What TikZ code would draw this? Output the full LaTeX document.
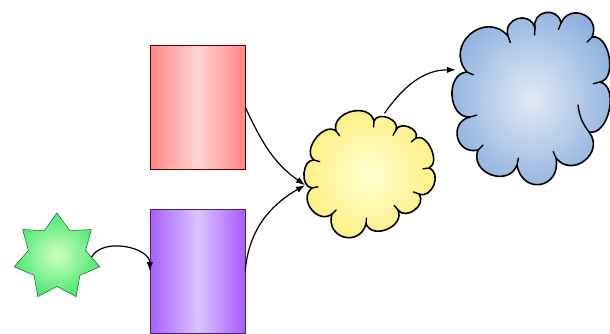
\documentclass[tikz,border=0pt]{standalone}
\usetikzlibrary{shapes.geometric,arrows.meta,calc}
\definecolor{redE}{HTML}{FF8585}
\definecolor{redC}{HTML}{FFD4D4}
\definecolor{purE}{HTML}{A95CFF}
\definecolor{purC}{HTML}{DCC4FF}
\definecolor{grnC}{HTML}{D0FFC0}
\definecolor{grnE}{HTML}{4CE874}
\definecolor{yelC}{HTML}{FFFFD0}
\definecolor{yelE}{HTML}{FFEE80}
\definecolor{bluC}{HTML}{E2EAF5}
\definecolor{bluE}{HTML}{8EB1E0}
\tikzset{
  box/.style={rectangle, inner sep=0pt, minimum width=95pt, minimum height=124pt},
  redbox/.style={box, draw=red!40!black, left color=redE, right color=redE, middle color=redC},
  purbox/.style={box, draw=purE!40!black, left color=purE, right color=purE, middle color=purC},
  greenstar/.style={star, star points=7, star point ratio=1.5, inner sep=0pt, minimum size=88pt,
    draw=green!30!black, inner color=grnC, outer color=grnE},
  anchorcloud/.style={ellipse, inner sep=0pt},
  puffline/.style={draw=black, line width=1.6pt, line join=round},
  tail/.style={draw=black, line width=1.4pt, line cap=round},
  pf/.style={bend left=90, looseness=#1},
  arr/.style={-{Latex[length=9pt,width=6.5pt]}, line width=1.2pt, black}
}
\begin{document}
\begin{tikzpicture}[x=1pt,y=-1pt]
\useasboundingbox (0,0) rectangle (610,333);
\node[redbox] (red) at (197.5,107) {};
\node[purbox] (pur) at (197.5,271) {};
\node[greenstar] (star) at (57,257) {};
% yellow cloud
\node[anchorcloud, minimum width=131pt, minimum height=128pt] (yel) at (370,176) {};
\path[puffline, inner color=yelC, outer color=yelE]
  (314,160) to[pf=1.1] (336,131) to[pf=1.3] (374,121) to[pf=1.2] (396,130)
  to[pf=1.2] (416,138) to[pf=1.0] (429,168) to[pf=1.3] (419,194)
  to[pf=1.3] (398,210) to[pf=1.3] (366,224) to[pf=1.8] (332,214)
  to[pf=1.4] (312,188) to[pf=1.1] (314,160) -- cycle;
\foreach \x/\y in {314/160,336/131,374/121,396/130,416/138,429/168,419/194,398/210,366/224,332/214,312/188}
  \draw[tail] (\x,\y) -- ($(\x,\y)!6pt!(yel.center)$);
% blue cloud
\node[anchorcloud, minimum width=158pt, minimum height=180pt] (blu) at (530.5,100) {};
\path[puffline, inner color=bluC, outer color=bluE]
  (467,72) to[pf=1.65] (508,36) to[pf=1.7] (535,28) to[pf=1.7] (561,23)
  to[pf=1.7] (592,37) to[pf=1.0] (600,82) to[pf=1.0] (589,132)
  to[pf=1.6] (556,158) to[pf=2.0] (517,165) to[pf=1.5] (478,150)
  to[pf=1.7] (470,117) to[pf=1.25] (467,72) -- cycle;
\foreach \x/\y in {467/72,508/36,535/28,561/23,592/37,600/82,556/158,517/165,478/150,470/117}
  \draw[tail] (\x,\y) -- ($(\x,\y)!7pt!(blu.center)$);
\draw[tail] (589,132) to[bend left=15] (578,105);
% connectors
\draw[arr] (star.east) to[out=60,in=90] (pur.west);
\draw[arr] (red.east) to[out=-65,in=145] (yel.188);
\draw[arr] (pur.east) to[out=85,in=210] (yel.188);
\draw[arr] (yel.77) to[out=55,in=180] (blu.158);
\end{tikzpicture}
\end{document}
